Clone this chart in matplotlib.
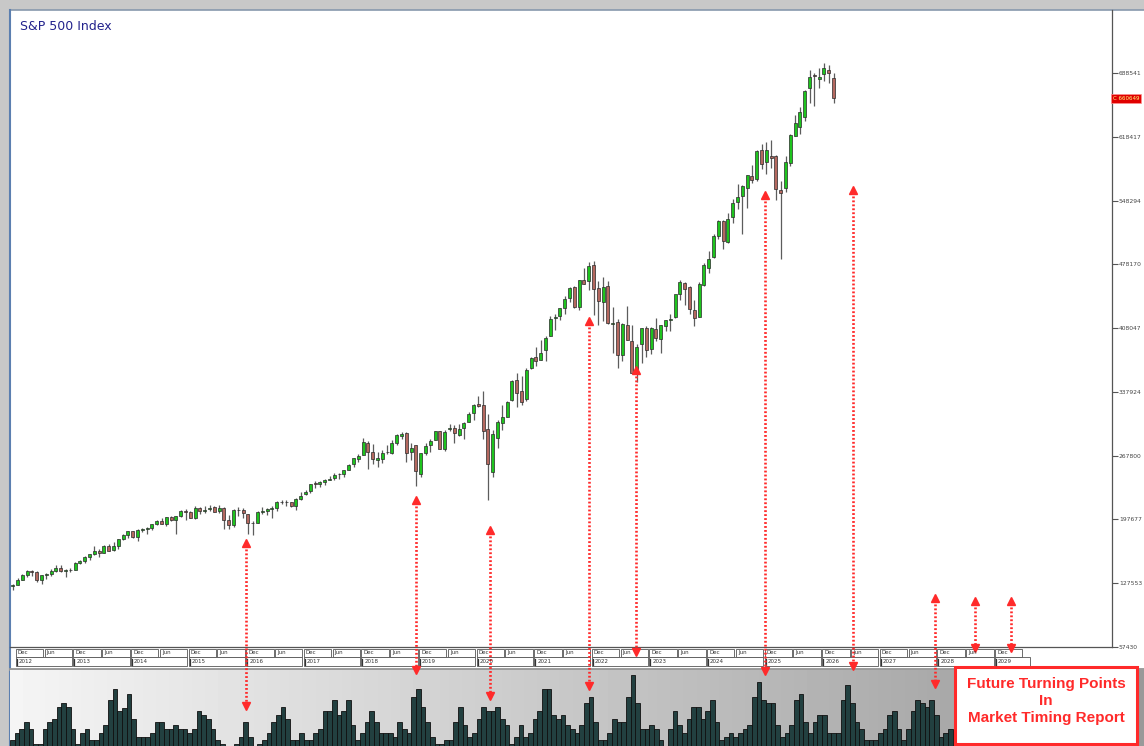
import numpy as np
import matplotlib
matplotlib.use("Agg")
import matplotlib.pyplot as plt
from matplotlib.patches import Rectangle
from matplotlib.transforms import blended_transform_factory

plt.rcParams["font.family"] = ["DejaVu Sans"]

# monthly S&P 500 candles, Dec 2011 .. Mar 2026 (index points); month 0 = Jan 2012
first_month = -1
opens = [
    1246.9,
    1258.9, 1312.4, 1365.9, 1408.5, 1397.9, 1310.3, 1362.3, 1379.3, 1406.5, 1440.9, 1412.2, 1416.2,
    1426.2, 1498.1, 1514.7, 1569.2, 1597.6, 1631.7, 1609.8, 1689.4, 1635.9, 1682.4, 1758.7, 1806.6,
    1845.9, 1782.7, 1857.7, 1873.9, 1884.7, 1923.9, 1962.3, 1929.8, 2004.1, 1971.4, 2018.2, 2065.8,
    2058.9, 1996.7, 2105.2, 2067.6, 2087.4, 2108.6, 2067.0, 2104.5, 1970.1, 1919.7, 2080.8, 2082.9,
    2038.2, 1936.9, 1937.1, 2056.6, 2067.2, 2093.9, 2099.3, 2173.2, 2171.3, 2164.3, 2128.7, 2200.2,
    2251.6, 2285.6, 2380.1, 2362.3, 2388.5, 2415.6, 2431.4, 2477.1, 2474.4, 2521.2, 2583.2, 2645.1,
    2683.7, 2816.5, 2715.2, 2633.4, 2643.0, 2718.7, 2705.0, 2821.2, 2897.0, 2926.3, 2717.6, 2790.5,
    2477.0, 2702.3, 2798.2, 2848.6, 2952.3, 2751.5, 2971.4, 2980.3, 2909.0, 2983.7, 3050.7, 3143.9,
    3244.7, 3235.7, 2974.3, 2498.1, 2869.1, 3038.8, 3105.9, 3288.3, 3507.4, 3385.9, 3296.2, 3645.9,
    3764.6, 3731.2, 3842.5, 3992.8, 4192.0, 4216.5, 4300.7, 4406.9, 4528.8, 4317.2, 4610.6, 4602.8,
    4778.1, 4519.6, 4363.1, 4540.3, 4130.6, 4149.8, 3781.0, 4112.4, 3936.7, 3609.8, 3901.8, 4087.1,
    3853.3, 4070.1, 3963.3, 4102.2, 4166.8, 4204.0, 4450.5, 4578.8, 4530.6, 4284.5, 4201.3, 4559.4,
    4745.2, 4861.1, 5098.5, 5258.0, 5029.0, 5297.2, 5471.1, 5537.8, 5623.9, 5757.7, 5723.2, 6040.1,
    5903.3, 5969.7, 5968.3, 5597.5, 5625.1, 5896.7, 6198.0, 6287.0, 6401.5, 6715.4, 6866.7, 6815.0,
    6870.0, 6920.0, 6830.0,
]
highs = [
    1269.4,
    1333.5, 1378.0, 1419.2, 1422.4, 1415.3, 1363.5, 1391.7, 1426.7, 1474.5, 1470.9, 1434.3, 1448.0,
    1509.9, 1530.9, 1570.3, 1597.6, 1687.2, 1654.2, 1698.8, 1709.7, 1729.9, 1765.2, 1813.6, 1849.4,
    1850.8, 1867.9, 1883.9, 1897.3, 1924.0, 1968.2, 1991.4, 2005.0, 2019.3, 2018.2, 2075.8, 2093.6,
    2072.4, 2119.6, 2117.5, 2125.9, 2134.7, 2129.9, 2132.8, 2112.7, 2020.9, 2094.3, 2116.5, 2104.3,
    2038.2, 1963.0, 2072.2, 2111.1, 2103.5, 2120.6, 2177.1, 2193.8, 2187.9, 2169.6, 2214.1, 2277.5,
    2301.0, 2371.5, 2401.0, 2398.2, 2418.7, 2453.8, 2484.0, 2490.9, 2519.4, 2583.0, 2657.7, 2695.0,
    2872.9, 2836.0, 2801.9, 2717.5, 2742.2, 2791.5, 2848.0, 2916.5, 2940.9, 2939.9, 2815.2, 2800.2,
    2709.0, 2813.5, 2860.3, 2949.5, 2954.1, 2964.2, 3028.0, 3013.6, 3022.0, 3050.1, 3154.3, 3247.9,
    3337.8, 3393.5, 3136.7, 2954.9, 3068.7, 3233.1, 3280.0, 3514.8, 3588.1, 3549.9, 3646.0, 3760.2,
    3870.9, 3950.4, 3994.4, 4218.8, 4238.0, 4302.4, 4430.0, 4537.4, 4545.9, 4608.1, 4743.8, 4808.9,
    4818.6, 4595.3, 4637.3, 4593.5, 4307.7, 4177.5, 4140.2, 4325.3, 4119.3, 3905.4, 4080.1, 4101.0,
    4094.2, 4195.4, 4110.8, 4170.1, 4231.1, 4448.5, 4607.1, 4584.6, 4541.3, 4393.6, 4587.6, 4793.3,
    4931.1, 5111.1, 5264.9, 5263.9, 5341.9, 5505.5, 5669.7, 5651.6, 5767.4, 5878.5, 6044.2, 6100.0,
    6128.2, 6147.4, 5986.1, 5695.3, 5968.6, 6215.1, 6427.0, 6508.2, 6699.5, 6920.3, 6890.6, 6945.8,
    6992.0, 6975.0, 6882.0,
]
lows = [
    1202.4,
    1258.9, 1312.4, 1340.0, 1357.4, 1291.9, 1266.7, 1325.4, 1354.7, 1396.6, 1403.3, 1343.4, 1398.1,
    1426.2, 1485.0, 1501.5, 1536.0, 1581.3, 1560.3, 1604.6, 1627.5, 1633.4, 1646.5, 1746.2, 1767.9,
    1770.5, 1737.9, 1834.4, 1814.4, 1859.8, 1915.1, 1930.7, 1904.8, 1964.0, 1820.7, 2001.0, 1972.6,
    1988.1, 1980.9, 2039.7, 2048.4, 2067.9, 2056.3, 2044.0, 1867.0, 1871.9, 1893.7, 2019.4, 1993.3,
    1812.3, 1810.1, 1937.1, 2033.8, 2025.9, 1991.7, 2074.0, 2147.6, 2119.1, 2114.7, 2083.8, 2187.4,
    2245.1, 2271.7, 2322.3, 2329.0, 2352.7, 2405.7, 2407.7, 2417.4, 2446.6, 2520.4, 2557.4, 2605.5,
    2682.4, 2532.7, 2585.9, 2553.8, 2594.6, 2692.0, 2699.0, 2796.3, 2864.1, 2603.5, 2631.1, 2346.6,
    2444.0, 2681.8, 2722.3, 2848.6, 2750.5, 2728.8, 2952.2, 2822.1, 2891.9, 2855.9, 3050.7, 3070.3,
    3214.6, 2855.8, 2191.9, 2447.5, 2766.6, 2965.7, 3101.2, 3284.5, 3209.5, 3233.9, 3279.7, 3633.4,
    3662.7, 3725.6, 3723.3, 3992.8, 4056.9, 4164.4, 4233.1, 4367.7, 4305.9, 4278.9, 4560.0, 4495.1,
    4222.6, 4114.7, 4157.9, 4124.3, 3810.3, 3636.9, 3721.6, 3954.5, 3584.1, 3491.6, 3698.2, 3764.5,
    3794.3, 3943.1, 3808.9, 4049.4, 4048.3, 4195.4, 4385.1, 4335.3, 4238.6, 4103.8, 4197.7, 4546.5,
    4682.1, 4853.4, 5056.8, 4953.6, 5011.1, 5234.3, 5391.0, 5119.3, 5402.6, 5674.0, 5696.5, 5832.3,
    5773.3, 5837.7, 5488.7, 4835.0, 5578.6, 5861.4, 6193.0, 6212.7, 6360.6, 6552.2, 6521.9, 6720.4,
    6800.0, 6780.0, 6555.0,
]
closes = [
    1257.6,
    1312.4, 1365.7, 1408.5, 1397.9, 1310.3, 1362.2, 1379.3, 1406.6, 1440.7, 1412.2, 1416.2, 1426.2,
    1498.1, 1514.7, 1569.2, 1597.6, 1630.7, 1606.3, 1685.7, 1633.0, 1681.6, 1756.5, 1805.8, 1848.4,
    1782.6, 1859.5, 1872.3, 1883.9, 1923.6, 1960.2, 1930.7, 2003.4, 1972.3, 2018.1, 2067.6, 2058.9,
    1995.0, 2104.5, 2067.9, 2085.5, 2107.4, 2063.1, 2103.8, 1972.2, 1920.0, 2079.4, 2080.4, 2043.9,
    1940.2, 1932.2, 2059.7, 2065.3, 2097.0, 2098.9, 2173.6, 2171.0, 2168.3, 2126.2, 2198.8, 2238.8,
    2278.9, 2363.6, 2362.7, 2384.2, 2411.8, 2423.4, 2470.3, 2471.7, 2519.4, 2575.3, 2647.6, 2673.6,
    2823.8, 2713.8, 2640.9, 2648.1, 2705.3, 2718.4, 2816.3, 2901.5, 2914.0, 2711.7, 2760.2, 2506.9,
    2704.1, 2784.5, 2834.4, 2945.8, 2752.1, 2941.8, 2980.4, 2926.5, 2976.7, 3037.6, 3141.0, 3230.8,
    3225.5, 2954.2, 2584.6, 2912.4, 3044.3, 3100.3, 3271.1, 3500.3, 3363.0, 3270.0, 3621.6, 3756.1,
    3714.2, 3811.2, 3972.9, 4181.2, 4204.1, 4297.5, 4395.3, 4522.7, 4307.5, 4605.4, 4567.0, 4766.2,
    4515.6, 4373.9, 4530.4, 4131.9, 4132.2, 3785.4, 4130.3, 3955.0, 3585.6, 3872.0, 4080.1, 3839.5,
    4076.6, 3970.2, 4109.3, 4169.5, 4179.8, 4450.4, 4589.0, 4507.7, 4288.1, 4193.8, 4567.8, 4769.8,
    4845.7, 5096.3, 5254.4, 5035.7, 5277.5, 5460.5, 5522.3, 5648.4, 5762.5, 5705.5, 6032.4, 5881.6,
    6040.5, 5954.5, 5611.9, 5569.1, 5911.7, 6205.0, 6339.4, 6460.3, 6688.5, 6840.2, 6849.1, 6845.5,
    6939.0, 6880.0, 6606.49,
]

price_ticks = [57430, 127553, 197677, 267800, 337924, 408047, 478170, 548294, 618417, 688541]
years = list(range(2012, 2030))

# lower cycle panel (0-100 of panel height)
cycle = [
    8, 17, 22, 32, 22, 3, 3, 22, 32, 36, 51, 56, 51, 22, 3, 17, 22, 8, 8, 17,
    27, 61, 75, 46, 50, 69, 36, 12, 12, 12, 17, 32, 32, 22, 22, 27, 22, 22, 17, 22,
    46, 41, 36, 22, 8, 3, 0, 0, 3, 12, 32, 12, 0, 3, 8, 17, 32, 41, 51, 36,
    8, 8, 17, 8, 8, 17, 22, 46,
    46, 61, 41, 46, 61, 27, 8, 17, 32, 46, 32, 17, 17, 17, 12, 32, 22, 17, 65, 75,
    51, 32, 12, 3, 3, 8, 8, 32, 51, 27, 12, 17, 36, 51, 46, 46, 51, 36, 27, 3,
    12, 27, 12, 17, 36, 46, 75, 75, 41, 36, 41, 27, 22, 17, 27, 56, 65, 32, 8, 8,
    17, 36, 32, 32, 65, 94, 56,
    22, 22, 27, 22, 8, 0, 22, 46, 27, 17, 36, 51, 51, 36, 46, 61, 32, 8, 12, 17,
    12, 17, 22, 27, 65, 84, 61, 56, 56, 27, 12, 17, 27, 61, 69, 32, 17, 32, 41, 41,
    17, 17, 17, 61, 80, 56, 32, 22, 8, 8, 8, 17, 22, 41, 46, 22, 8, 22, 46, 61,
    56, 51, 61, 41, 12, 17, 22,
]

# turning points: month index, arrow top / bottom (image pixels)
turn_months = [47.6, 83.0, 98.4, 119.1, 128.9, 155.7, 174.1, 191.1, 199.5, 207.0]
turn_top = [540, 497, 527, 318, 367, 192, 187, 595, 598, 598]
turn_bottom = [709, 673, 699, 689, 655, 674, 669, 687, 651, 651]

W, H = 1144, 746
fig = plt.figure(figsize=(W / 100, H / 100), dpi=100, facecolor="#c8c8c8")

def px_rect(x0, y0, x1, y1):
    return [x0 / W, 1 - y1 / H, (x1 - x0) / W, (y1 - y0) / H]

# window background
bg = fig.add_axes([0, 0, 1, 1], zorder=0)
bg.set_xlim(0, W); bg.set_ylim(H, 0); bg.axis("off")
bg.add_patch(Rectangle((10, 10), W - 10, 658, fc="white", ec="none"))
bg.plot([10, W], [10, 10], color="#8898ad", lw=1.2)
bg.plot([10, 10], [10, H], color="#5b7fb0", lw=1.5)
bg.plot([10, W], [668.5, 668.5], color="#9a9a9a", lw=2)

# price panel
ax = fig.add_axes(px_rect(10, 10, 1112, 647), zorder=2)
ax.patch.set_alpha(0)
months = np.arange(len(closes)) + first_month
o, hi, lo, c = map(np.array, (opens, highs, lows, closes))
up = c >= o
ax.vlines(months, lo, hi, color="#5c5c5c", lw=0.9, zorder=2)
ax.bar(months, np.abs(c - o), width=0.64, bottom=np.minimum(o, c),
       color=np.where(up, "#1ec41e", "#b4685f"), edgecolor="#2a2a2a", lw=0.5, zorder=3)
ax.set_xlim(-1.5625, 228.02)
ax.set_ylim(574.30, 7578.1)
ax.set_xticks([])
ax.yaxis.tick_right()
ax.set_yticks([v / 100 for v in price_ticks])
ax.set_yticklabels([str(v) for v in price_ticks])
ax.tick_params(axis="y", length=4, width=0.8, color="#555", labelsize=4.3, labelcolor="#444", pad=1)
for s in ("left", "top"):
    ax.spines[s].set_visible(False)
for s in ("right", "bottom"):
    ax.spines[s].set_color("#555"); ax.spines[s].set_linewidth(0.9)

last = closes[-1]
ax.text(1.0008, last, f"C {last * 100:.0f}", transform=blended_transform_factory(ax.transAxes, ax.transData),
        fontsize=4, color="#ffff80", va="center", ha="left", clip_on=False,
        bbox=dict(boxstyle="square,pad=0.3", fc="#e00000", ec="#ff9090", lw=0.5))

# cycle panel
pn = fig.add_axes(px_rect(10, 670, W, H), zorder=2)
xb = np.arange(len(cycle))
pn.set_xlim(-0.5, -0.5 + (W - 10) / 4.667)
pn.set_ylim(0, 100)
grad = np.linspace(0.96, 0.6, 256).reshape(1, -1)
pn.imshow(grad, cmap="gray", vmin=0, vmax=1, aspect="auto",
          extent=(-0.5, -0.5 + (W - 10) / 4.667, 0, 100), zorder=0)
pn.bar(xb, cycle, width=1.0, color="#224040", edgecolor="#101010", lw=0.6, zorder=2)
pn.axis("off")

# overlay: title, date strip, arrows, report box
ov = fig.add_axes([0, 0, 1, 1], zorder=5)
ov.set_xlim(0, W); ov.set_ylim(H, 0); ov.axis("off"); ov.patch.set_alpha(0)
bl = blended_transform_factory(ax.transData, ov.transData)

ov.text(20, 27, "S&P 500 Index", fontsize=9, color="#22228c", va="center", ha="left")

for k in range(35):
    m0 = -0.5 + 6 * k
    ov.add_patch(Rectangle((m0 + 0.15, 648.5), 5.7, 8.3, transform=bl, fc="white", ec="#555", lw=0.6))
    ov.text(m0 + 0.6, 652.7, "Dec" if k % 2 == 0 else "Jun", transform=bl,
            fontsize=4, color="#333", va="center", ha="left")
for j, yr in enumerate(years):
    m0 = -0.5 + 12 * j
    w = min(12, 211 - m0)
    ov.add_patch(Rectangle((m0 + 0.15, 657.3), w - 0.3, 8.3, transform=bl, fc="white", ec="#555", lw=0.6))
    ov.plot([m0 + 0.35, m0 + 0.35], [658.5, 664.5], transform=bl, color="#333", lw=0.9)
    ov.text(m0 + 0.8, 661.5, str(yr), transform=bl, fontsize=4, color="#333", va="center", ha="left")

red = "#ff2a2a"
for m, t, b in zip(turn_months, turn_top, turn_bottom):
    ov.plot([m, m], [t + 5, b - 5], transform=bl, color=red, lw=1.9, linestyle=(0, (0.7, 0.8)))
    ov.plot([m], [t + 3], transform=bl, marker="^", ms=5.5, color=red, mec=red)
    ov.plot([m], [b - 3], transform=bl, marker="v", ms=5.5, color=red, mec=red)

ov.add_patch(Rectangle((955, 667), 182, 77, fc="white", ec=red, lw=2.2))
ov.text(1046, 701, "Future Turning Points\nIn\nMarket Timing Report", fontsize=11, fontweight="bold",
        family=["Liberation Sans", "DejaVu Sans"], color=red, ha="center", va="center", linespacing=1.25)

fig.savefig("out.png", dpi=100, facecolor=fig.get_facecolor())
